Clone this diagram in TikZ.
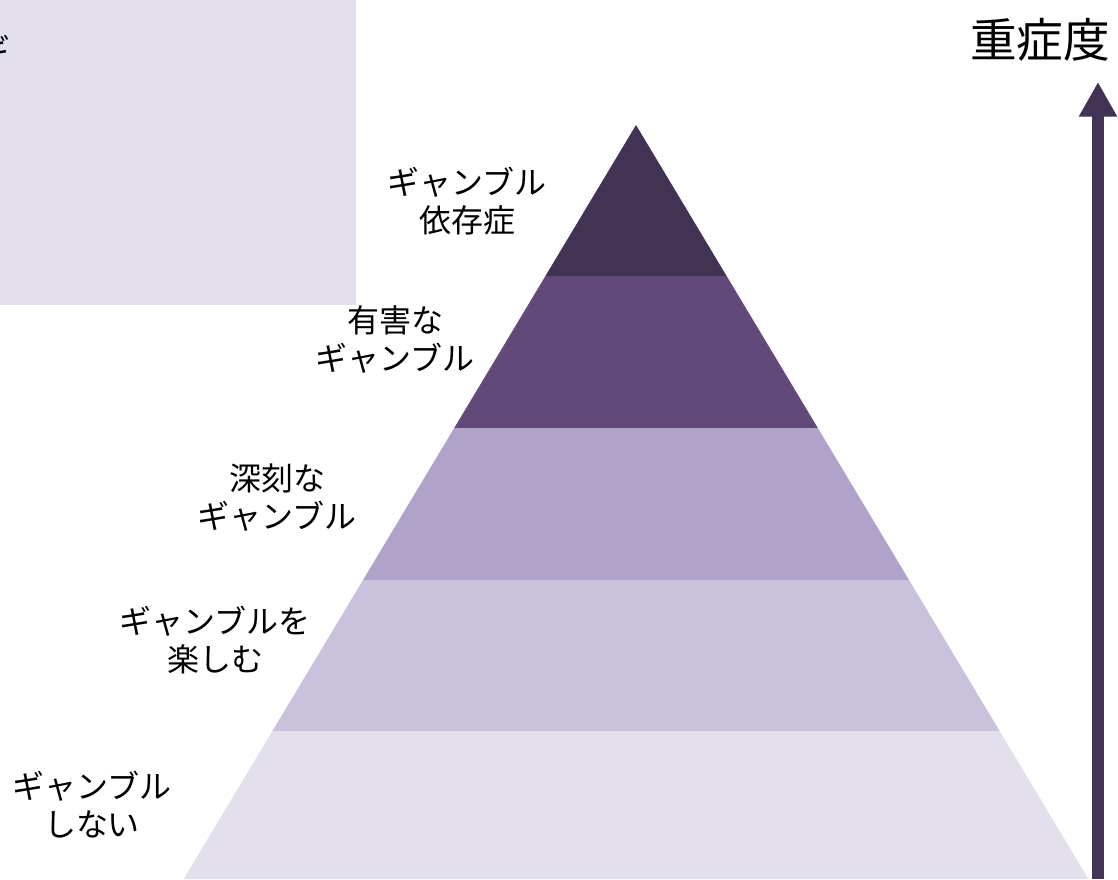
\documentclass[tikz,border=0pt]{standalone}
\usepackage{fontspec}
\setmainfont{Noto Sans CJK JP}
\usepackage{xcolor}
\usetikzlibrary{arrows.meta}

\definecolor{levelA}{RGB}{66,50,83}
\definecolor{levelB}{RGB}{97,74,122}
\definecolor{levelC}{RGB}{176,162,200}
\definecolor{levelD}{RGB}{202,193,220}
\definecolor{levelE}{RGB}{228,223,236}

\tikzset{
  lvllabel/.style={align=center,inner sep=0.75pt,font=\fontsize{24}{28.5}\selectfont},
}

\begin{document}
\begin{tikzpicture}[x=0.75pt,y=0.75pt,yscale=-1,xscale=1]
\useasboundingbox (0,0) rectangle (1118,879);

%Shape: Rectangle
\fill [levelE] (0,0) -- (356,0) -- (356,305) -- (0,305) -- cycle ;
% Text Node (cut at the left edge)
\node (cutoff) [anchor=east,inner sep=0pt,font=\fontsize{24}{28.5}\selectfont] at (11,50) {ギ};

%Shape: Pyramid levels
\fill [levelA] (636,125) -- (726.6,276) -- (545.4,276) -- cycle ;
\fill [levelB] (545.4,276) -- (726.6,276) -- (817.8,428) -- (454.2,428) -- cycle ;
\fill [levelC] (454.2,428) -- (817.8,428) -- (909,580) -- (363,580) -- cycle ;
\fill [levelD] (363,580) -- (909,580) -- (999.6,731) -- (272.4,731) -- cycle ;
\fill [levelE] (272.4,731) -- (999.6,731) -- (1088.4,879) -- (183.6,879) -- cycle ;

%Straight Lines (severity arrow)
\coordinate (sevlow) at (1098,879) ;
\coordinate (sevhigh) at (1098,82) ;
\draw [levelA, line width=9pt, -{Triangle[width=27pt,length=26pt]}] (sevlow) -- (sevhigh) ;

% Text Node
\node (severity) [inner sep=0.75pt,font=\fontsize{35}{40}\selectfont] at (1040,40) {重症度};
% Text Node
\node (addiction) [lvllabel] at (467,201) {ギャンブル\\依存症};
% Text Node
\node (harmful) [lvllabel] at (395,339) {有害な\\ギャンブル};
% Text Node
\node (serious) [lvllabel] at (277,498) {深刻な\\ギャンブル};
% Text Node
\node (enjoy) [lvllabel] at (215,640) {ギャンブルを\\楽しむ};
% Text Node
\node (none) [lvllabel] at (92,805) {ギャンブル\\しない};

\end{tikzpicture}
\end{document}
